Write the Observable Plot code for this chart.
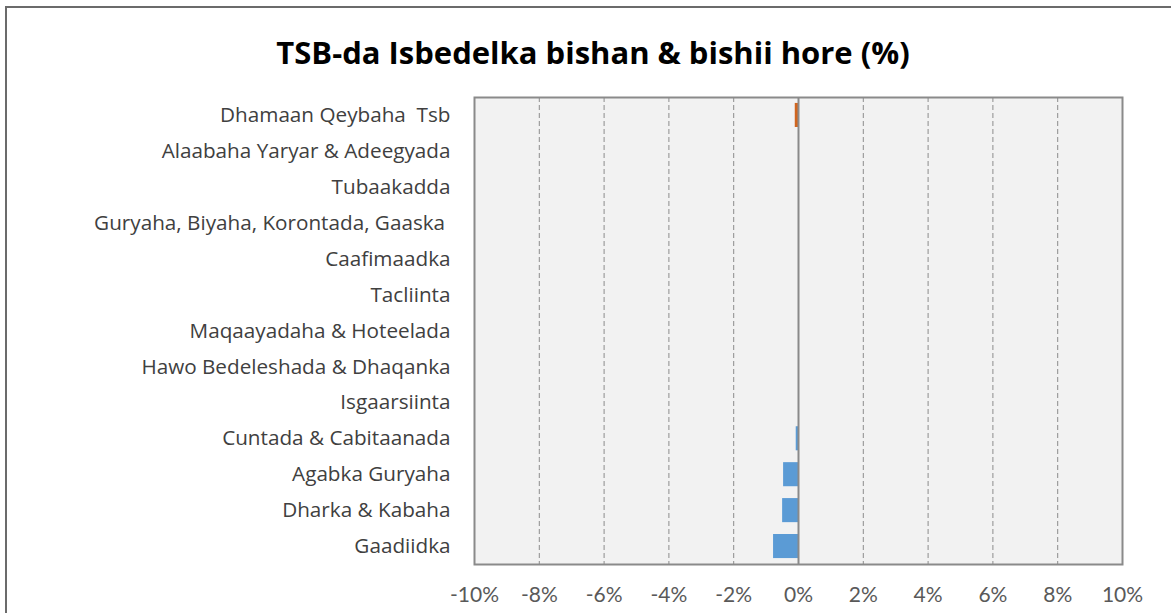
<!DOCTYPE html>
<html>
<head>
<meta charset="utf-8">
<script src="https://cdn.jsdelivr.net/npm/d3@7"></script>
<script src="https://cdn.jsdelivr.net/npm/@observablehq/plot@0.6"></script>
<style>
  html, body { margin: 0; padding: 0; background: #fff; }
  #wrap { position: relative; width: 1171px; height: 613px; overflow: hidden; font-family: "Open Sans", Lato, sans-serif; }
  #border { position: absolute; left: 5px; top: 6px; width: 1200px; height: 700px; border: 2px solid #6b6b6b; box-sizing: border-box; }
  #title { position: absolute; left: 0; top: 31px; width: 1186px; text-align: center; font-size: 31px; font-weight: bold; color: #000; }
  #chart { position: absolute; left: 0; top: 0; }
  #chart svg text { white-space: pre; }
</style>
</head>
<body>
<div id="wrap">
  <div id="border"></div>
  <div id="chart"></div>
  <div id="title">TSB-da Isbedelka bishan &amp; bishii hore (%)</div>
</div>
<script>
const categories = [
  "Dhamaan Qeybaha  Tsb",
  "Alaabaha Yaryar & Adeegyada",
  "Tubaakadda",
  "Guryaha, Biyaha, Korontada, Gaaska ",
  "Caafimaadka",
  "Tacliinta",
  "Maqaayadaha & Hoteelada",
  "Hawo Bedeleshada & Dhaqanka",
  "Isgaarsiinta",
  "Cuntada & Cabitaanada",
  "Agabka Guryaha",
  "Dharka & Kabaha",
  "Gaadiidka"
];
const values = [-0.10, 0, 0, 0, 0, 0, 0, 0, 0, -0.07, -0.46, -0.49, -0.77];
const isTotal = [true, false, false, false, false, false, false, false, false, false, false, false, false];
const xTicks = [-10, -8, -6, -4, -2, 0, 2, 4, 6, 8, 10];

const data = categories.map((c, i) => ({category: c, value: values[i], total: isTotal[i]}));

const chart = Plot.plot({
  width: 1171,
  height: 613,
  marginLeft: 474,
  marginRight: 49,
  marginTop: 97,
  marginBottom: 49,
  style: {fontFamily: "'Open Sans', Lato, sans-serif", background: "transparent", overflow: "visible"},
  x: {domain: [-10, 10], ticks: xTicks, tickFormat: d => d + "%", label: null},
  y: {domain: categories, paddingInner: 0.33, paddingOuter: 0.165, round: false, label: null},
  marks: [
    Plot.frame({fill: "#f2f2f2", stroke: "none"}),
    Plot.ruleX(xTicks.filter(d => d !== 0 && Math.abs(d) !== 10), {stroke: "#8c8c8c", strokeWidth: 1, strokeDasharray: "5,3"}),
    Plot.barX(data, {x: "value", y: "category", fill: d => d.total ? "#d0651f" : "#5b9bd5"}),
    Plot.ruleX([0], {stroke: "#8a8a8a", strokeWidth: 2}),
    Plot.frame({stroke: "#8a8a8a", strokeWidth: 2}),
    Plot.axisX({ticks: xTicks, tickFormat: d => d + "%", tickSize: 0, tickPadding: 23, fontSize: 21, fontFamily: "Lato, sans-serif", color: "#595959", label: null}),
    Plot.axisY({tickSize: 0, tickPadding: 24, fontSize: 20.7, color: "#404040", label: null})
  ]
});
document.getElementById("chart").appendChild(chart);
</script>
</body>
</html>
